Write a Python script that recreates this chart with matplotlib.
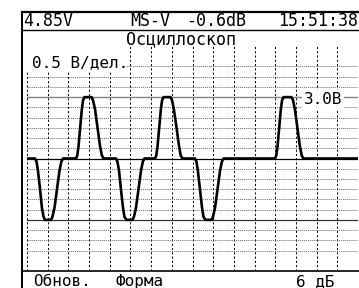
import numpy as np
import matplotlib
matplotlib.use("Agg")
import matplotlib.pyplot as plt
from matplotlib.lines import Line2D
from matplotlib.patches import Rectangle

# screen readings
volts_per_div = "0.5 В/дел."
level_label = "3.0В"
header_left = "4.85V"
header_mode = "MS-V"
header_gain = "-0.6dB"
header_time = "15:51:38"
title = "Осциллоскоп"
soft_keys = ["Обнов.", "Форма", "6 дБ"]

# waveform, time in divisions, voltage in V
t = [0.00, 0.39, 0.46, 0.53, 0.63, 0.72, 0.80, 0.87, 1.16, 1.23, 1.33, 1.45, 1.57, 1.66, 1.74,
     2.37, 2.43, 2.49, 2.57, 2.65, 2.71, 2.78, 3.12, 3.19, 3.29, 3.41, 3.53, 3.62, 3.70,
     4.30, 4.37, 4.45, 4.54, 4.64, 4.71, 4.81, 5.10, 5.17, 5.27, 5.39, 5.51, 5.60, 5.68,
     6.19, 6.25, 6.31, 6.39, 6.47, 6.53, 6.60, 6.94, 7.01, 7.10, 7.23, 7.35, 7.43, 7.52,
     8.12, 8.19, 8.26, 8.36, 8.46, 8.53, 8.63, 8.92, 8.99, 9.09, 9.21, 9.33, 9.42, 9.50,
     11.99, 12.05, 12.11, 12.19, 12.27, 12.33, 12.40, 12.78, 12.86, 12.95, 13.07, 13.19, 13.28, 13.36,
     16.00]
v = [0, 0, -0.15, -0.6, -1.5, -2.4, -2.85, -3, -3, -2.85, -2.4, -1.5, -0.6, -0.15, 0,
     0, 0.15, 0.6, 1.5, 2.4, 2.85, 3, 3, 2.85, 2.4, 1.5, 0.6, 0.15, 0,
     0, -0.15, -0.6, -1.5, -2.4, -2.85, -3, -3, -2.85, -2.4, -1.5, -0.6, -0.15, 0,
     0, 0.15, 0.6, 1.5, 2.4, 2.85, 3, 3, 2.85, 2.4, 1.5, 0.6, 0.15, 0,
     0, -0.15, -0.6, -1.5, -2.4, -2.85, -3, -3, -2.85, -2.4, -1.5, -0.6, -0.15, 0,
     0, 0.15, 0.6, 1.5, 2.4, 2.85, 3, 3, 2.85, 2.4, 1.5, 0.6, 0.15, 0,
     0]

W, H = 359, 288
fig = plt.figure(figsize=(W / 100, H / 100), dpi=100)
mono = "DejaVu Sans Mono"


def fx(x):
    return x / W


def fy(y):
    return 1 - y / H


ax = fig.add_axes([fx(27), fy(271), fx(358) - fx(27), fy(46) - fy(271)])
ax.set_xlim(0, 16)
ax.set_ylim(-5.5, 5.5)
ax.set_xticks(np.arange(0, 17, 1))
ax.set_yticks(np.arange(-4.5, 4.6, 0.5))
ax.tick_params(length=0, labelbottom=False, labelleft=False)
for s in ax.spines.values():
    s.set_visible(False)
ax.xaxis.grid(True, color="black", lw=0.7, ls=(0, (2.2, 2.2)))
ax.yaxis.grid(True, color="#555555", lw=0.55, ls=(0, (1.5, 1.2)))

ax.axhline(0, color="black", lw=0.9)
ax.axhline(3, color="#808080", lw=1.0)
ax.axhline(-3, color="#333333", lw=0.9)
ax.plot(t, v, color="black", lw=1.9, solid_joinstyle="round")

ax.text(14.3, 2.88, level_label, family=mono, fontsize=11.5, ha="center", va="center",
        bbox=dict(fc="white", ec="none", pad=1.5))

# frame
for xs, ys, lw in [([22, 359], [12, 12], 1.6), ([22, 359], [29.5, 29.5], 1.0),
                   ([22, 22], [12, 288], 1.4), ([22, 359], [271, 271], 1.2)]:
    fig.add_artist(Line2D([fx(x) for x in xs], [fy(y) for y in ys], color="black", lw=lw))

# white box behind the scale label
fig.add_artist(Rectangle((fx(27), fy(72)), fx(126) - fx(27), fy(45) - fy(72),
                         transform=fig.transFigure, fc="white", ec="none"))

hdr = dict(family=mono, fontsize=12, va="baseline")
fig.text(fx(23), fy(26.5), header_left, **hdr)
fig.text(fx(130), fy(26.5), header_mode, **hdr)
fig.text(fx(186), fy(26.5), header_gain, **hdr)
fig.text(fx(358), fy(26.5), header_time, ha="right", **hdr)
fig.text(fx(181), fy(44), title, ha="center", **hdr)
fig.text(fx(32), fy(67.5), volts_per_div, family=mono, fontsize=11.5, va="baseline")
key = dict(family=mono, fontsize=11.5, va="baseline")
fig.text(fx(33), fy(286), soft_keys[0], **key)
fig.text(fx(115), fy(286), soft_keys[1], **key)
fig.text(fx(296), fy(286), soft_keys[2], **key)

fig.savefig("out.png", dpi=100)
